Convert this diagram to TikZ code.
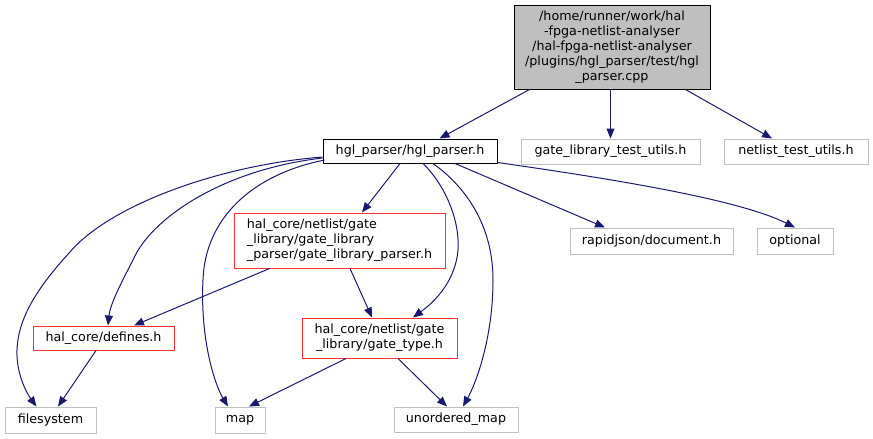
\documentclass[tikz,border=0pt]{standalone}
\usepackage{fontspec}
\setmainfont{DejaVu Sans}
\usetikzlibrary{arrows.meta}
\definecolor{edgeblue}{HTML}{191970}
\definecolor{boxgray}{HTML}{BFBFBF}
\definecolor{boxred}{HTML}{FF3030}
\tikzset{
  box/.style={draw, rectangle, inner sep=0pt, line width=1pt,
    font=\fontsize{12.7}{15}\selectfont, anchor=center},
  graybox/.style={box, draw=boxgray},
  redbox/.style={box, draw=boxred},
  rootbox/.style={box, draw=black, fill=boxgray},
  mainbox/.style={box, draw=black},
  edge/.style={draw=edgeblue, line width=1pt,
    -{Triangle[length=10pt,width=8pt,fill=edgeblue]}},
}
\begin{document}
\begin{tikzpicture}[x=1pt,y=-1pt]
\useasboundingbox (0,0) rectangle (873,439);
% nodes
\node[rootbox, minimum width=196pt, minimum height=84pt, align=center] (top) at (612,47)
  {/home/runner/work/hal\\-fpga-netlist-analyser\\/hal-fpga-netlist-analyser\\/plugins/hgl\_parser/test/hgl\\\_parser.cpp};
\node[mainbox, minimum width=174pt, minimum height=24pt] (hgl) at (410,151) {hgl\_parser/hgl\_parser.h};
\node[graybox, minimum width=179pt, minimum height=25pt] (gltu) at (610.5,151.5) {gate\_library\_test\_utils.h};
\node[graybox, minimum width=144pt, minimum height=25pt] (ntu) at (796,151.5) {netlist\_test\_utils.h};
\node[graybox, minimum width=163pt, minimum height=26pt] (rapid) at (651.5,241) {rapidjson/document.h};
\node[graybox, minimum width=76pt, minimum height=26pt] (opt) at (795,241) {optional};
\node[redbox, minimum width=211pt, minimum height=55pt, align=left] (glp) at (339.5,240.5)
  {hal\_core/netlist/gate\\\_library/gate\_library\\\_parser/gate\_library\_parser.h};
\node[redbox, minimum width=141pt, minimum height=24pt] (def) at (103.5,338) {hal\_core/defines.h};
\node[redbox, minimum width=155pt, minimum height=40pt, align=center] (gt) at (379.5,338)
  {hal\_core/netlist/gate\\\_library/gate\_type.h};
\node[graybox, minimum width=91pt, minimum height=26pt] (fs) at (50.5,420) {filesystem};
\node[graybox, minimum width=50pt, minimum height=26pt] (map) at (240,420) {map};
\node[graybox, minimum width=124pt, minimum height=25pt] (umap) at (456,419.5) {unordered\_map};
% edges
\draw[edge] ([xshift=16pt]top.south west) -- ([xshift=117pt]hgl.north west);
\draw[edge] (gltu.north |- top.south) -- (gltu.north);
\draw[edge] ([xshift=-25pt]top.south east) -- ([xshift=-24pt]ntu.north);
\draw[edge] ([yshift=-6pt]hgl.west) .. controls (220,165) and (110,205) .. (70,252)
  .. controls (35,290) and (18,320) .. (17,350)
  .. controls (16,375) and (28,395) .. ([xshift=32pt]fs.north west);
\draw[edge] ([yshift=-7pt]hgl.west) .. controls (220,170) and (150,220) .. (133,260)
  .. controls (120,285) and (110,305) .. ([xshift=4.5pt]def.north);
\draw[edge] ([xshift=2pt,yshift=-9pt]hgl.west) .. controls (250,175) and (205,220) .. (203,280)
  .. controls (200,340) and (215,385) .. ([xshift=-12pt]map.north);
\draw[edge] ([xshift=-10pt]hgl.south) -- ([xshift=22.5pt]glp.north);
\draw[edge] ([xshift=13pt]hgl.south) .. controls (445,185) and (460,220) .. (458,250)
  .. controls (455,285) and (430,305) .. ([xshift=33.5pt]gt.north);
\draw[edge] ([xshift=23pt]hgl.south) .. controls (470,190) and (493,230) .. (493,280)
  .. controls (493,340) and (475,385) .. ([xshift=7pt]umap.north);
\draw[edge] ([xshift=45pt]hgl.south) -- ([xshift=-46.5pt]rapid.north);
\draw[edge] ([yshift=1pt]hgl.south east) .. controls (620,180) and (740,200) .. (opt.north);
\draw[edge] ([xshift=36pt]glp.south west) -- ([xshift=30.5pt]def.north);
\draw[edge] ([xshift=10.5pt]glp.south) -- ([xshift=-7.5pt]gt.north);
\draw[edge] ([xshift=-7.5pt]def.south) -- ([xshift=7.5pt]fs.north);
\draw[edge] ([xshift=-33.5pt]gt.south) -- ([xshift=9pt]map.north);
\draw[edge] ([xshift=18.5pt]gt.south) -- ([xshift=-9pt]umap.north);
\end{tikzpicture}
\end{document}
